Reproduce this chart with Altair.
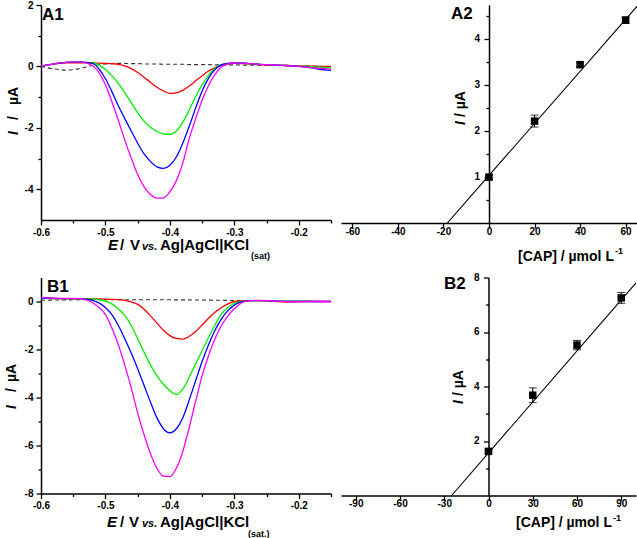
import json
import altair as alt
import pandas as pd

FONT = "Liberation Sans"

# ---------------- data ----------------
E = [-0.60, -0.58, -0.56, -0.54, -0.52,
     -0.50, -0.49, -0.48, -0.47, -0.46, -0.45, -0.44, -0.43, -0.42, -0.41, -0.40,
     -0.39, -0.38, -0.37, -0.36, -0.35, -0.34, -0.33, -0.32, -0.31, -0.30,
     -0.28, -0.26, -0.24, -0.22, -0.20, -0.18, -0.16, -0.15]

# A1 voltammograms
a1_blank = [0.0, -0.08, -0.12, -0.07, 0.03,
            0.08, 0.09, 0.10, 0.10, 0.09, 0.09, 0.08, 0.08, 0.08, 0.07, 0.07,
            0.07, 0.07, 0.06, 0.06, 0.06, 0.06, 0.05, 0.05, 0.05, 0.05,
            0.04, 0.04, 0.03, 0.02, 0.01, 0.01, 0.0, 0.0]
a1_red = [0.0, 0.08, 0.12, 0.12, 0.11,
          0.10, 0.09, 0.07, 0.02, -0.07, -0.20, -0.35, -0.52, -0.68, -0.80, -0.88,
          -0.86, -0.78, -0.64, -0.47, -0.30, -0.15, -0.04, 0.04, 0.08, 0.10,
          0.08, 0.06, 0.04, 0.03, 0.02, 0.01, 0.0, 0.0]
a1_green = [0.0, 0.08, 0.13, 0.14, 0.12,
            -0.10, -0.30, -0.55, -0.85, -1.18, -1.50, -1.78, -1.98, -2.12, -2.20, -2.21,
            -2.10, -1.82, -1.42, -0.98, -0.60, -0.28, -0.06, 0.06, 0.10, 0.11,
            0.09, 0.07, 0.05, 0.03, 0.01, -0.01, -0.03, -0.04]
a1_blue = [0.0, 0.08, 0.13, 0.15, 0.10,
           -0.40, -0.82, -1.28, -1.70, -2.10, -2.50, -2.85, -3.10, -3.27, -3.32, -3.22,
           -2.95, -2.50, -1.95, -1.35, -0.80, -0.38, -0.10, 0.05, 0.10, 0.12,
           0.10, 0.07, 0.05, 0.03, 0.0, -0.05, -0.11, -0.13]
a1_magenta = [0.0, 0.08, 0.14, 0.15, 0.02,
              -0.60, -1.15, -1.75, -2.40, -2.98, -3.52, -3.92, -4.17, -4.29, -4.28, -4.08,
              -3.72, -3.15, -2.35, -1.70, -1.10, -0.62, -0.26, -0.02, 0.08, 0.12,
              0.10, 0.07, 0.05, 0.03, 0.0, -0.04, -0.07, -0.09]

# B1 voltammograms
b1_blank_E = [-0.60, -0.55, -0.50, -0.45, -0.40, -0.35, -0.30, -0.275]
b1_blank = [0.05, 0.07, 0.08, 0.07, 0.07, 0.06, 0.04, 0.02]
b1_red = [0.15, 0.12, 0.12, 0.12, 0.11,
          0.10, 0.09, 0.08, 0.05, -0.02, -0.12, -0.32, -0.60, -0.90, -1.20, -1.42,
          -1.54, -1.57, -1.45, -1.25, -0.98, -0.70, -0.45, -0.25, -0.10, 0.0,
          0.04, 0.04, 0.01, -0.02, -0.01, 0.0, 0.0, 0.0]
b1_green = [0.15, 0.12, 0.12, 0.12, 0.10,
            0.02, -0.10, -0.30, -0.58, -1.00, -1.55, -2.12, -2.65, -3.10, -3.45, -3.72,
            -3.88, -3.65, -3.15, -2.60, -2.05, -1.50, -0.98, -0.52, -0.25, -0.08,
            0.03, 0.04, 0.03, 0.02, 0.02, 0.02]
b1_blue = [0.15, 0.13, 0.12, 0.12, 0.05,
           -0.25, -0.55, -1.00, -1.55, -2.15, -2.80, -3.50, -4.20, -4.85, -5.30, -5.47,
           -5.30, -4.85, -4.10, -3.30, -2.50, -1.80, -1.20, -0.72, -0.38, -0.15,
           0.03, 0.04, 0.02, 0.0, 0.0, 0.0, 0.0, 0.0]
b1_magenta = [0.17, 0.14, 0.13, 0.12, -0.05,
              -0.55, -1.10, -1.80, -2.65, -3.60, -4.65, -5.55, -6.35, -6.95, -7.28, -7.30,
              -6.95, -6.25, -5.25, -4.15, -3.10, -2.25, -1.55, -1.00, -0.60, -0.30,
              0.03, 0.05, 0.02, 0.0, 0.0, 0.0, 0.0, 0.0]

# A2 / B2 standard-addition plots
a2_conc = [0, 20, 40, 60]
a2_I = [1.00, 2.22, 3.45, 4.42]
a2_err = [0.04, 0.13, 0.05, 0.07]
a2_fit_x = [-18.3, 65]
a2_fit_y = [0.0, 4.72]

b2_conc = [0, 30, 60, 90]
b2_I = [1.62, 3.68, 5.52, 7.25]
b2_err = [0.06, 0.27, 0.17, 0.20]
b2_fit_x = [-25, 100]
b2_fit_y = [0.0, 7.80]

SERIES = ["blank", "red", "green", "blue", "magenta"]
COLORS = ["#333333", "#ff0000", "#00ee00", "#0000ff", "#ff00ff"]


# ---------------- helpers ----------------
def axis(values, major, offset=None, pad=2, labels=True):
    m = json.dumps(major)
    kw = dict(
        values=values,
        tickSize={"condition": {"test": f"indexof({m}, datum.value) >= 0", "value": 5}, "value": 3},
        title=None, grid=False, domainColor="black", domainWidth=1.5, tickColor="black",
        tickWidth=1.3,
    )
    if labels:
        kw.update(labelExpr=f"indexof({m}, datum.value) >= 0 ? toString(datum.value) : ''",
                  labelFont=FONT, labelFontWeight="bold", labelFontSize=10,
                  labelColor="black", labelPadding=pad, labelOverlap=False,
                  labelFlush=False, labelBound=False)
    else:
        kw["labels"] = False
    if offset is not None:
        kw["offset"] = offset
    return alt.Axis(**kw)


def txt(t, x, y, size=14, style="normal", angle=0, baseline="alphabetic"):
    props = dict(font=FONT, fontSize=size, fontWeight="bold", fontStyle=style,
                 align="left", baseline=baseline, color="black")
    if angle:
        props["angle"] = angle
    return alt.Chart(pd.DataFrame({"t": [t]})).mark_text(**props).encode(
        text="t:N", x=alt.value(x), y=alt.value(y))


def volt_panel(curves, ydom, yvals, ymaj, w, h, texts):
    rows = []
    for name, xs, ys in curves:
        for x, y in zip(xs, ys):
            rows.append({"E": x, "I": y, "s": name})
    df = pd.DataFrame(rows)
    xs = alt.X("E:Q", scale=alt.Scale(domain=[-0.6, -0.15], nice=False, zero=False),
               axis=axis([-0.6, -0.55, -0.5, -0.45, -0.4, -0.35, -0.3, -0.25, -0.2, -0.15],
                         [-0.6, -0.5, -0.4, -0.3, -0.2]))
    ys = alt.Y("I:Q", scale=alt.Scale(domain=ydom, nice=False, zero=False),
               axis=axis(yvals, ymaj, pad=3))
    col = alt.Color("s:N", scale=alt.Scale(domain=SERIES, range=COLORS), legend=None)
    dashed = alt.Chart(df[df.s == "blank"]).mark_line(
        strokeDash=[4, 3], strokeWidth=1.1, clip=True, interpolate="monotone"
    ).encode(x=xs, y=ys, color=col)
    solid = alt.Chart(df[df.s != "blank"]).mark_line(
        strokeWidth=1.3, clip=True, interpolate="monotone"
    ).encode(x=xs, y=ys, color=col, detail="s:N")
    return alt.layer(dashed, solid, *texts).properties(width=w, height=h)


def calib_panel(conc, I, err, fx, fy, xdom, xvals, xmaj, ydom, yvals, ymaj, w, h, yoff, texts):
    pts = pd.DataFrame({"c": conc, "I": I, "lo": [a - b for a, b in zip(I, err)],
                        "hi": [a + b for a, b in zip(I, err)]})
    fit = pd.DataFrame({"c": fx, "I": fy})
    ylabs = pd.DataFrame({"I": ymaj, "t": [str(v) for v in ymaj]})
    xax = axis(xvals, xmaj, pad=-2)
    yax = axis(yvals, ymaj, offset=yoff, labels=False)
    xsc = alt.Scale(domain=xdom, nice=False, zero=False)
    ysc = alt.Scale(domain=ydom, nice=False, zero=False)
    xs = alt.X("c:Q", scale=xsc, axis=xax)
    ys = alt.Y("I:Q", scale=ysc, axis=yax)
    line = alt.Chart(fit).mark_line(color="black", strokeWidth=1.1, clip=True).encode(x=xs, y=ys)
    bar = alt.Chart(pts).mark_rule(color="black", strokeWidth=1.1).encode(
        x=xs, y=alt.Y("lo:Q", scale=ysc, axis=yax), y2="hi:Q")
    cap_lo = alt.Chart(pts).mark_tick(color="black", orient="horizontal", size=8, thickness=1.1).encode(
        x=xs, y=alt.Y("lo:Q", scale=ysc, axis=yax))
    cap_hi = alt.Chart(pts).mark_tick(color="black", orient="horizontal", size=8, thickness=1.1).encode(
        x=xs, y=alt.Y("hi:Q", scale=ysc, axis=yax))
    sq = alt.Chart(pts).mark_square(color="black", size=56, opacity=1).encode(x=xs, y=ys)
    labs = alt.Chart(ylabs).mark_text(
        align="right", baseline="middle", dx=-9, font=FONT, fontSize=10,
        fontWeight="bold", color="black"
    ).encode(x=alt.datum(0), y=ys, text="t:N")
    return alt.layer(line, bar, cap_lo, cap_hi, sq, labs, *texts).properties(width=w, height=h)


# ---------------- panels ----------------
A1 = volt_panel(
    [("blank", E, a1_blank), ("red", E, a1_red), ("green", E, a1_green),
     ("blue", E, a1_blue), ("magenta", E, a1_magenta)],
    [-5, 2], [-4, -3, -2, -1, 0, 1, 2], [-4, -2, 0, 2], 290, 215,
    [txt("A1", 1, 15, 17),
     txt("I", -27, 130, 14, "italic", 270, "middle"),
     txt("/", -27, 115, 14, "normal", 270, "middle"),
     txt("µA", -27, 100, 14, "normal", 270, "middle"),
     txt("E", 67, 245, 15, "italic"),
     txt("/", 79, 245, 15),
     txt("V", 89, 245, 15),
     txt("vs.", 101, 245, 11, "italic"),
     txt("Ag|AgCl|KCl", 119, 245, 15),
     txt("(sat)", 210, 254, 9)])

A2 = calib_panel(
    a2_conc, a2_I, a2_err, a2_fit_x, a2_fit_y,
    [-65, 65], [-60, -50, -40, -30, -20, -10, 0, 10, 20, 30, 40, 50, 60],
    [-60, -40, -20, 0, 20, 40, 60],
    [0, 4.75], [0.5, 1, 1.5, 2, 2.5, 3, 3.5, 4, 4.5], [1, 2, 3, 4], 296, 218, -148,
    [txt("A2", 110, 14, 17),
     txt("I", 120, 120, 14, "italic", 270, "middle"),
     txt("/ µA", 120, 112, 14, "normal", 270, "middle"),
     txt("[CAP] / µmol L", 177, 256, 14),
     txt("-1", 274, 249, 9)])

B1 = volt_panel(
    [("blank", b1_blank_E, b1_blank), ("red", E, b1_red), ("green", E[:len(b1_green)], b1_green),
     ("blue", E, b1_blue), ("magenta", E, b1_magenta)],
    [-8, 1], [-8, -7, -6, -5, -4, -3, -2, -1, 0], [-8, -6, -4, -2, 0], 290, 216,
    [txt("B1", 6, 14.5, 17),
     txt("I", -29, 131.5, 14, "italic", 270, "middle"),
     txt("/", -29, 114.5, 14, "normal", 270, "middle"),
     txt("µA", -29, 104.5, 14, "normal", 270, "middle"),
     txt("E", 66, 249.5, 15, "italic"),
     txt("/", 79, 249.5, 15),
     txt("V", 88, 249.5, 15),
     txt("vs.", 101, 249.5, 11, "italic"),
     txt("Ag|AgCl|KCl", 119, 249.5, 15),
     txt("(sat.)", 207, 259, 9)])

B2 = calib_panel(
    b2_conc, b2_I, b2_err, b2_fit_x, b2_fit_y,
    [-100, 100], [-90, -75, -60, -45, -30, -15, 0, 15, 30, 45, 60, 75, 90],
    [-90, -60, -30, 0, 30, 60, 90],
    [0, 8], [1, 2, 3, 4, 5, 6, 7, 8], [2, 4, 6, 8], 295, 218, -147.5,
    [txt("B2", 103, 11.5, 17),
     txt("I", 118, 126.5, 14, "italic", 270, "middle"),
     txt("/ µA", 118, 118.5, 14, "normal", 270, "middle"),
     txt("[CAP] / µmol L", 175, 249.5, 14),
     txt("-1", 272, 243, 9)])

chart = alt.concat(
    A1, A2, B1, B2, columns=2, spacing={"row": 54.5, "column": 10}, bounds="flush"
).properties(
    padding={"left": 5, "top": 0, "right": 0, "bottom": 0},
    background="white",
).configure_view(stroke=None)

chart.save("out.html", embed_options={"renderer": "svg", "actions": False})
